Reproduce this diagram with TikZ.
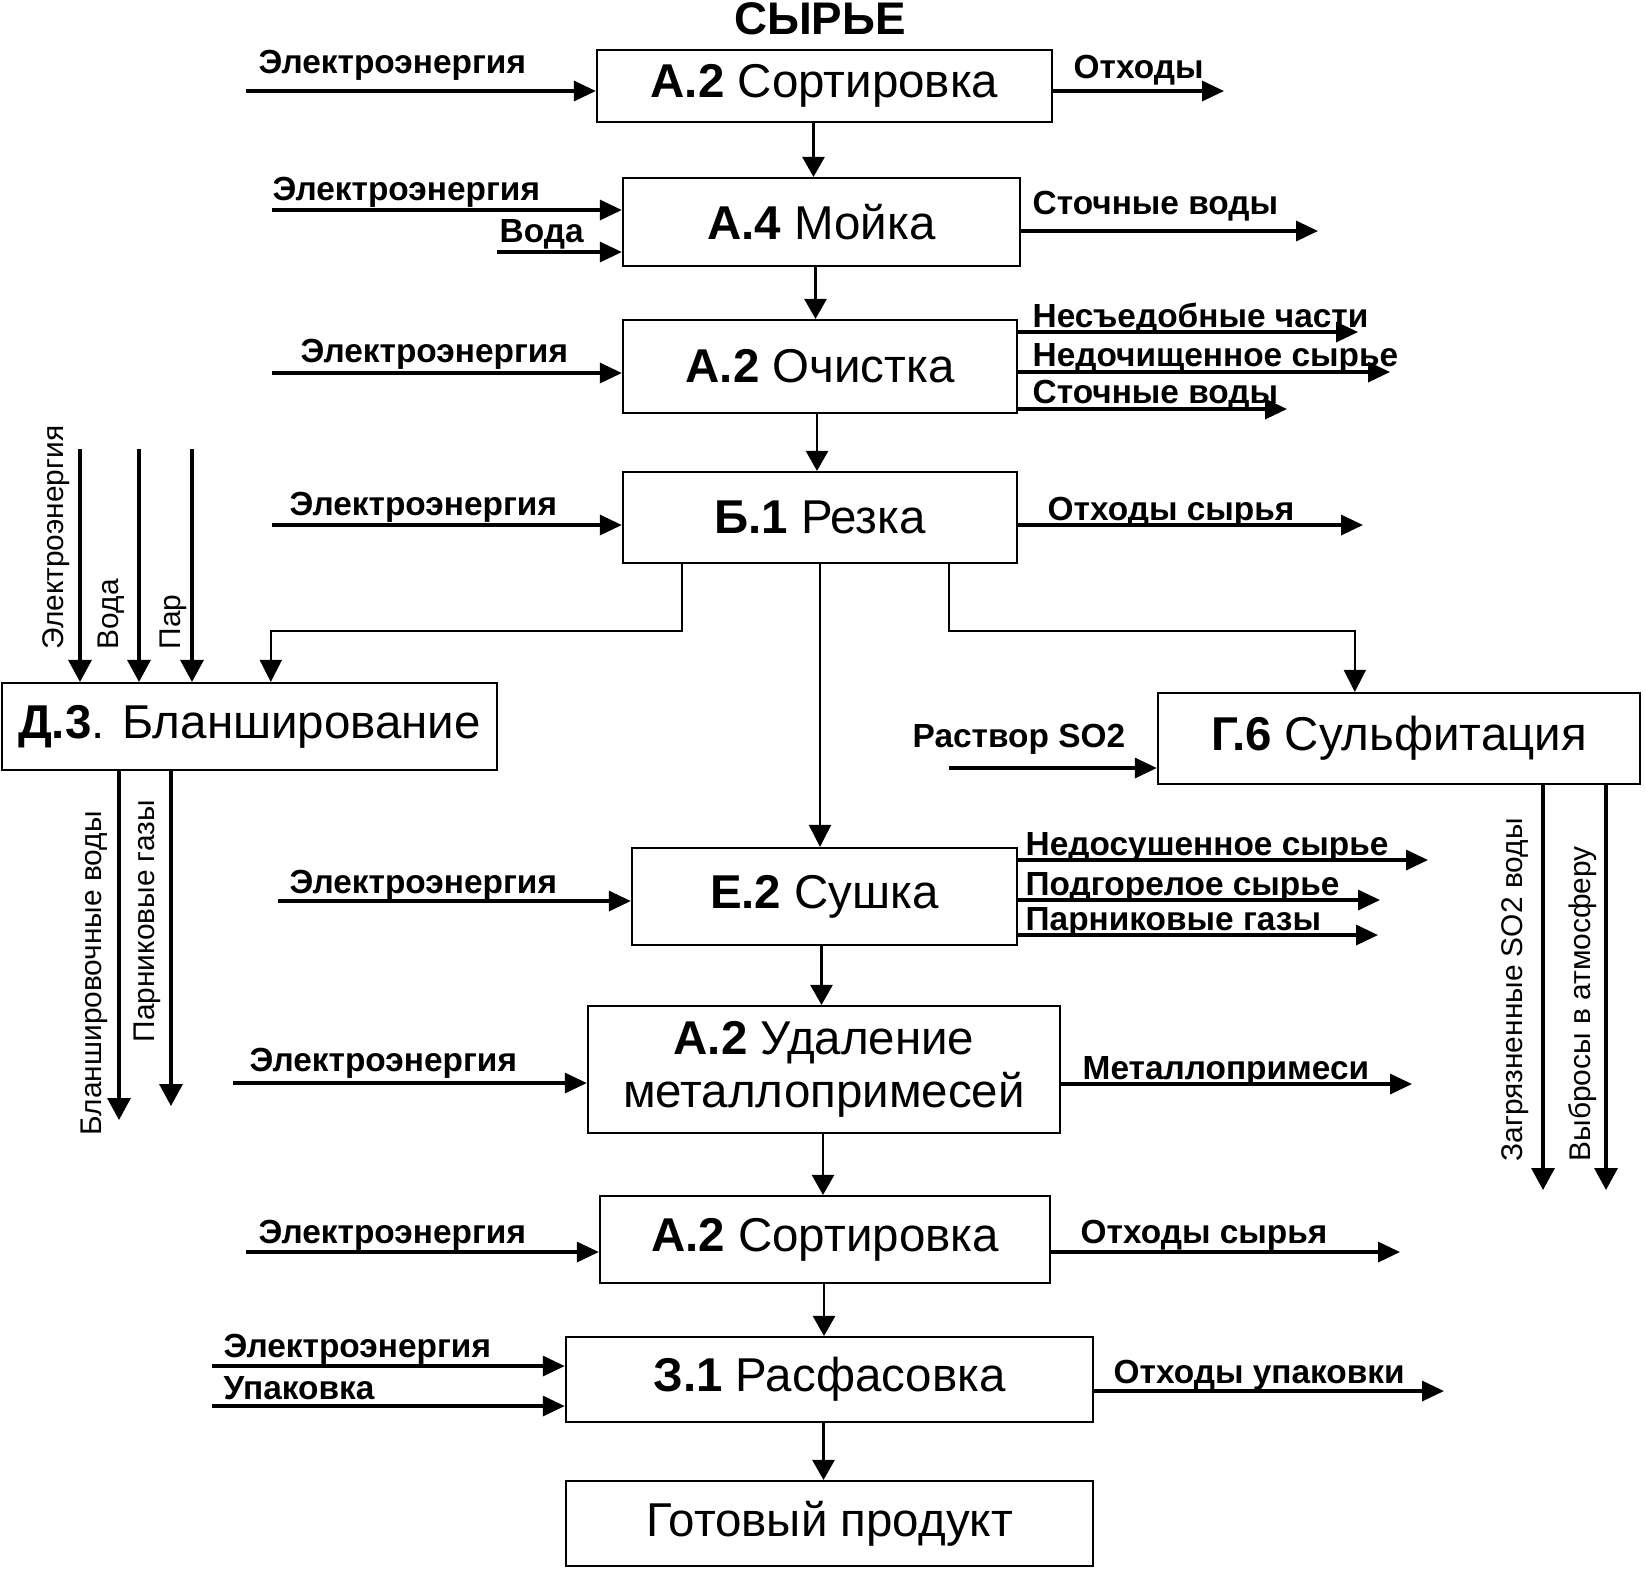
\documentclass[tikz,border=0pt]{standalone}
\usepackage{fontspec}
\setmainfont{Liberation Sans}
\usetikzlibrary{calc, arrows.meta}
\tikzstyle{etap} = [
    rectangle,
    draw = black,
    line width = 0.6pt,
    inner sep = 0pt,
    align = center,
    font = \fontsize{13.5}{15}\selectfont,
]
\tikzstyle{metka} = [inner sep = 0pt, anchor = base west, font = \fontsize{9.5}{11}\selectfont\bfseries]
\tikzstyle{vmetka} = [inner sep = 0pt, anchor = base west, rotate = 90, font = \fontsize{8.5}{10}\selectfont]
\tikzstyle{vhod} = [line width = 0.95pt, -{Triangle[length = 2.2mm, width = 2mm]}]
\tikzstyle{vvod} = [line width = 0.95pt, -{Triangle[length = 2.2mm, width = 2.3mm]}]
\tikzstyle{strelka} = [line width = 0.75pt, -{Triangle[length = 2mm, width = 2.2mm]}]
\tikzstyle{vetka} = [line width = 0.5pt, -{Triangle[length = 2.2mm, width = 2.2mm]}]

\begin{document}
\begin{tikzpicture} [x = 0.01cm, y = -0.01cm]
    \useasboundingbox (0, 0) rectangle (1646, 1568);

    \node (Syrje) [font = \fontsize{13}{15}\selectfont\bfseries] at (820, 19) {СЫРЬЕ};

    % main chain
    \node (Sort1) [etap, minimum width = 4.55cm, minimum height = 0.72cm] at (824.5, 86) {\textbf{А.2} Сортировка};
    \node (Moika) [etap, minimum width = 3.97cm, minimum height = 0.88cm] at (821.5, 222) {\textbf{А.4} Мойка};
    \node (Ochist) [etap, minimum width = 3.94cm, minimum height = 0.93cm] at (820, 366.5) {\textbf{А.2} Очистка};
    \node (Rezka) [etap, minimum width = 3.94cm, minimum height = 0.91cm] at (820, 517.5) {\textbf{Б.1} Резка};
    \node (Blanch) [etap, minimum width = 4.95cm, minimum height = 0.87cm] at (249.5, 726.5) {\textbf{Д.3}. Бланширование};
    \node (Sulf) [etap, minimum width = 4.82cm, minimum height = 0.91cm] at (1399, 738.5) {\textbf{Г.6} Сульфитация};
    \node (Sushka) [etap, minimum width = 3.85cm, minimum height = 0.97cm] at (824.5, 896.5) {\textbf{Е.2} Сушка};
    \node (Udal) [etap, minimum width = 4.72cm, minimum height = 1.27cm] at (824, 1069.5) {\textbf{А.2} Удаление\\металлопримесей};
    \node (Sort2) [etap, minimum width = 4.50cm, minimum height = 0.87cm] at (825, 1239.5) {\textbf{А.2} Сортировка};
    \node (Rasf) [etap, minimum width = 5.27cm, minimum height = 0.85cm] at (829.5, 1379.5) {\textbf{З.1} Расфасовка};
    \node (Gotov) [etap, minimum width = 5.27cm, minimum height = 0.85cm] at (829.5, 1523.5) {Готовый продукт};

    \coordinate (s1) at ($(Sort1.south) + (-11, 0)$);
    \coordinate (s2) at ($(Moika.south) + (-6, 0)$);
    \coordinate (s3) at ($(Ochist.south) + (-3, 0)$);
    \coordinate (s4) at ($(Sushka.south) + (-3, 0)$);
    \coordinate (s5) at ($(Udal.south) + (-1, 0)$);
    \coordinate (s6) at ($(Sort2.south) + (-1, 0)$);
    \coordinate (s7) at ($(Rasf.south) + (-6, 0)$);
    \draw[strelka] (s1) -- (s1 |- Moika.north);
    \draw[strelka] (s2) -- (s2 |- Ochist.north);
    \draw[strelka] (s3) -- (s3 |- Rezka.north);
    \draw[strelka] (s4) -- (s4 |- Udal.north);
    \draw[strelka] (s5) -- (s5 |- Sort2.north);
    \draw[strelka] (s6) -- (s6 |- Rasf.north);
    \draw[strelka] (s7) -- (s7 |- Gotov.north);

    \draw[vetka] (Rezka.south) -- (Rezka.south |- Sushka.north);
    \draw[vetka] ($(Rezka.south) + (-138, 0)$) -- ++(0, 67) -| ($(Blanch.north west) + (270, 0)$);
    \draw[vetka] ($(Rezka.south) + (129, 0)$) -- ++(0, 67) -| ($(Sulf.north west) + (198, 0)$);

    % A.2 Sortirovka
    \coordinate (vS1) at (246, 91);
    \coordinate (oS1) at (1224, 91);
    \draw[vhod] (vS1) -- (vS1 -| Sort1.west);
    \draw[vhod] (oS1 -| Sort1.east) -- (oS1);
    \node (eS1) [metka] at (258, 73) {Электроэнергия};
    \node (otS1) [metka] at (1073, 78) {Отходы};

    % A.4 Moika
    \coordinate (vM1) at (272, 210);
    \coordinate (vM2) at (497, 252);
    \coordinate (oM1) at (1318, 231);
    \draw[vhod] (vM1) -- (vM1 -| Moika.west);
    \draw[vhod] (vM2) -- (vM2 -| Moika.west);
    \draw[vhod] (oM1 -| Moika.east) -- (oM1);
    \node (eM) [metka] at (272, 200) {Электроэнергия};
    \node (voM) [metka] at (499, 242) {Вода};
    \node (stM) [metka] at (1032, 214) {Сточные воды};

    % A.2 Ochistka
    \coordinate (vO1) at (272, 373);
    \coordinate (oO1) at (1358, 332);
    \coordinate (oO2) at (1390, 372);
    \coordinate (oO3) at (1287, 409);
    \draw[vhod] (vO1) -- (vO1 -| Ochist.west);
    \draw[vhod] (oO1 -| Ochist.east) -- (oO1);
    \draw[vhod] (oO2 -| Ochist.east) -- (oO2);
    \draw[vhod] (oO3 -| Ochist.east) -- (oO3);
    \node (eO) [metka] at (300, 362) {Электроэнергия};
    \node (neO) [metka] at (1032, 327) {Несъедобные части};
    \node (nedO) [metka] at (1032, 366) {Недочищенное сырье};
    \node (stO) [metka] at (1032, 403) {Сточные воды};

    % B.1 Rezka
    \coordinate (vR1) at (272, 525);
    \coordinate (oR1) at (1363, 525);
    \draw[vhod] (vR1) -- (vR1 -| Rezka.west);
    \draw[vhod] (oR1 -| Rezka.east) -- (oR1);
    \node (eR) [metka] at (289, 515) {Электроэнергия};
    \node (otR) [metka] at (1047, 520) {Отходы сырья};

    % D.3 Blanshirovanie
    \coordinate (vB1) at (80, 449);
    \coordinate (vB2) at (139, 449);
    \coordinate (vB3) at (192, 449);
    \coordinate (oB1) at (119, 1120);
    \coordinate (oB2) at (171, 1106);
    \draw[vvod] (vB1) -- (vB1 |- Blanch.north);
    \draw[vvod] (vB2) -- (vB2 |- Blanch.north);
    \draw[vvod] (vB3) -- (vB3 |- Blanch.north);
    \draw[vvod] (oB1 |- Blanch.south) -- (oB1);
    \draw[vvod] (oB2 |- Blanch.south) -- (oB2);
    \node (eB) [vmetka] at (63, 650) {Электроэнергия};
    \node (voB) [vmetka] at (118, 650) {Вода};
    \node (parB) [vmetka] at (180, 650) {Пар};
    \node (blB) [vmetka] at (101, 1136) {Бланшировочные воды};
    \node (paB) [vmetka] at (154, 1043) {Парниковые газы};

    % G.6 Sulfitacija
    \coordinate (vG1) at (949, 768);
    \coordinate (oG1) at (1543, 1190);
    \coordinate (oG2) at (1606, 1190);
    \draw[vhod] (vG1) -- (vG1 -| Sulf.west);
    \draw[vvod] (oG1 |- Sulf.south) -- (oG1);
    \draw[vvod] (oG2 |- Sulf.south) -- (oG2);
    \node (raG) [metka] at (912, 747) {Раствор SO2};
    \node (zaG) [vmetka] at (1522, 1162) {Загрязненные SO2 воды};
    \node (vyG) [vmetka] at (1590, 1162) {Выбросы в атмосферу};

    % E.2 Sushka
    \coordinate (vE1) at (278, 901);
    \coordinate (oE1) at (1428, 860);
    \coordinate (oE2) at (1380, 900);
    \coordinate (oE3) at (1378, 935);
    \draw[vhod] (vE1) -- (vE1 -| Sushka.west);
    \draw[vhod] (oE1 -| Sushka.east) -- (oE1);
    \draw[vhod] (oE2 -| Sushka.east) -- (oE2);
    \draw[vhod] (oE3 -| Sushka.east) -- (oE3);
    \node (eE) [metka] at (289, 893) {Электроэнергия};
    \node (nedE) [metka] at (1025, 855) {Недосушенное сырье};
    \node (poE) [metka] at (1025, 895) {Подгорелое сырье};
    \node (paE) [metka] at (1025, 930) {Парниковые газы};

    % A.2 Udalenie
    \coordinate (vU1) at (233, 1083);
    \coordinate (oU1) at (1412, 1084);
    \draw[vhod] (vU1) -- (vU1 -| Udal.west);
    \draw[vhod] (oU1 -| Udal.east) -- (oU1);
    \node (eU) [metka] at (249, 1071) {Электроэнергия};
    \node (meU) [metka] at (1082, 1079) {Металлопримеси};

    % A.2 Sortirovka (2)
    \coordinate (vS2) at (246, 1252);
    \coordinate (oS2) at (1400, 1252);
    \draw[vhod] (vS2) -- (vS2 -| Sort2.west);
    \draw[vhod] (oS2 -| Sort2.east) -- (oS2);
    \node (eS2) [metka] at (258, 1243) {Электроэнергия};
    \node (otS2) [metka] at (1080, 1243) {Отходы сырья};

    % Z.1 Rasfasovka
    \coordinate (vF1) at (212, 1366);
    \coordinate (vF2) at (212, 1406);
    \coordinate (oF1) at (1444, 1391);
    \draw[vhod] (vF1) -- (vF1 -| Rasf.west);
    \draw[vhod] (vF2) -- (vF2 -| Rasf.west);
    \draw[vhod] (oF1 -| Rasf.east) -- (oF1);
    \node (eF) [metka] at (223, 1357) {Электроэнергия};
    \node (upF) [metka] at (223, 1399) {Упаковка};
    \node (otF) [metka] at (1113, 1383) {Отходы упаковки};
\end{tikzpicture}
\end{document}
